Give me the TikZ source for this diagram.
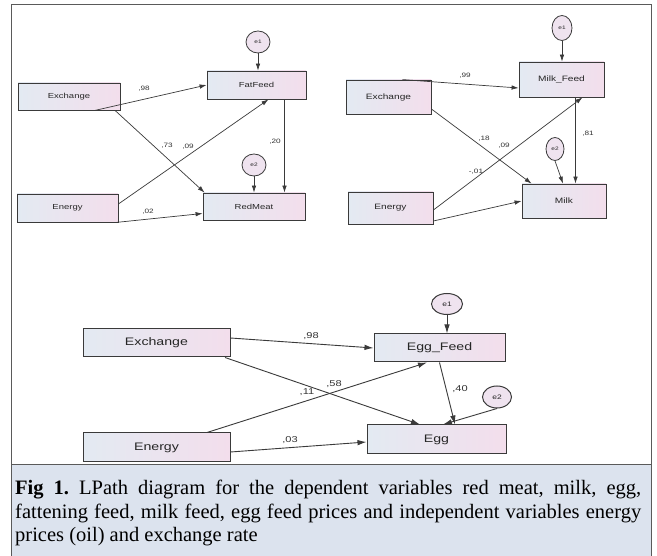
\documentclass[tikz,border=0pt]{standalone}
\usepackage{fontspec}
\setmainfont{Liberation Serif}
\newfontfamily\dgfont[FakeStretch=1.3]{Liberation Sans}
\usetikzlibrary{arrows.meta,shapes.geometric}
\definecolor{boxleft}{HTML}{E3EAF2}
\definecolor{boxright}{HTML}{F3DEEC}
\definecolor{ellfill}{HTML}{EFE3EF}
\definecolor{capfill}{HTML}{DCE3EE}
\definecolor{linec}{HTML}{3A3A3A}
\definecolor{framec}{HTML}{5A5A5A}
\begin{document}
\frenchspacing
\begin{tikzpicture}[x=1pt,y=-1pt,
  varbox/.style={rectangle, draw=linec, line width=0.8pt, left color=boxleft, right color=boxright, inner sep=0pt, text=black!85},
  smallbox/.style={varbox, font=\dgfont\fontsize{7.3}{8}\selectfont},
  midbox/.style={varbox, font=\dgfont\fontsize{7.8}{9}\selectfont},
  bigbox/.style={varbox, line width=1pt, font=\dgfont\fontsize{10.9}{12}\selectfont},
  errnode/.style={ellipse, draw=linec, line width=0.8pt, fill=ellfill, inner sep=0pt, text=black!85},
  smallerr/.style={errnode, font=\dgfont\fontsize{5}{6}\selectfont},
  bigerr/.style={errnode, line width=1pt, font=\dgfont\fontsize{6.5}{7}\selectfont},
  smalllab/.style={font=\dgfont\fontsize{6.3}{7}\selectfont, inner sep=0pt, text=black!80},
  biglab/.style={font=\dgfont\fontsize{8.5}{9}\selectfont, inner sep=0pt, text=black!80},
  arrS/.style={draw=linec, line width=0.7pt, -{Latex[length=7pt,width=4.5pt]}},
  arrB/.style={draw=linec, line width=0.9pt, -{Latex[length=9pt,width=5.5pt]}},
]
\useasboundingbox (0,0) rectangle (657,556);
\fill[white] (0,0) rectangle (657,556);
% frame and caption area
\fill[capfill] (11,465) rectangle (651,556);
\draw[framec, line width=1pt] (11,465) -- (651,465);
\draw[framec, line width=1pt] (11,556) -- (11,5) -- (651,5) -- (651,556);

% ---------- top-left diagram ----------
\node[smallbox, minimum width=102pt, minimum height=27pt] (exA) at (69,96.5) {Exchange};
\node[smallbox, minimum width=101pt, minimum height=28pt] (enA) at (67.5,208) {Energy};
\node[smallbox, minimum width=99pt, minimum height=28pt] (ffA) at (256.5,85) {FatFeed};
\node[smallbox, minimum width=102pt, minimum height=27pt] (rmA) at (254,206.5) {RedMeat};
\node[smallerr, minimum width=24pt, minimum height=22pt] (e1A) at (258,42) {e1};
\node[smallerr, minimum width=24pt, minimum height=22pt] (e2A) at (254,165) {e2};

\draw[arrS] ([xshift=26pt]exA.south) -- (ffA.west);
\draw[arrS] ([xshift=46pt]exA.south) -- ([xshift=2pt]rmA.north west);
\draw[arrS] ([yshift=4pt]enA.east) -- ([xshift=12pt]ffA.south);
\draw[arrS] ([xshift=-2pt]enA.south east) -- ([yshift=-7pt]rmA.west);
\draw[arrS] ([xshift=28pt]ffA.south) -- ([xshift=28pt]ffA.south |- rmA.north);
\draw[arrS] (e1A.south) -- (e1A.south |- ffA.north);
\draw[arrS] (e2A.south) -- (e2A.south |- rmA.north);

\node[smalllab] (lA1) at (144,89) {,98};
\node[smalllab] (lA2) at (167,146) {,73};
\node[smalllab] (lA3) at (188,147) {,09};
\node[smalllab] (lA4) at (148,212) {,02};
\node[smalllab] (lA5) at (275,142) {,20};

% ---------- top-right diagram ----------
\node[midbox, minimum width=85pt, minimum height=34pt] (exB) at (388.5,97) {Exchange};
\node[midbox, minimum width=85pt, minimum height=32pt] (enB) at (390.5,208) {Energy};
\node[midbox, minimum width=85pt, minimum height=35pt] (mfB) at (561.5,79.5) {Milk\_Feed};
\node[midbox, minimum width=84pt, minimum height=34pt] (mkB) at (564,201) {Milk};
\node[smallerr, minimum width=20pt, minimum height=25pt] (e1B) at (562,28) {e1};
\node[smallerr, minimum width=18pt, minimum height=23pt] (e2B) at (555,149) {e2};

\draw[arrS] ([xshift=14pt]exB.north) -- ([yshift=-8.5pt]mfB.west);
\draw[arrS] ([yshift=-12pt]exB.east) -- ([xshift=10pt]mkB.north west);
\draw[arrS] ([yshift=-2pt]enB.east) -- ([xshift=21pt]mfB.south);
\draw[arrS] ([yshift=-13pt]enB.east) -- (mkB.west);
\draw[arrS] ([xshift=14pt]mfB.south) -- ([xshift=14pt]mfB.south |- mkB.north);
\draw[arrS] (e1B.south) -- (e1B.south |- mfB.north);
\draw[arrS] (e2B.south) -- ([xshift=-1pt]mkB.north);

\node[smalllab] (lB1) at (465,76) {,99};
\node[smalllab] (lB2) at (484,139) {,18};
\node[smalllab] (lB3) at (504,146) {,09};
\node[smalllab] (lB4) at (476,172) {-,01};
\node[smalllab] (lB5) at (588,134) {,81};

% ---------- bottom diagram ----------
\node[bigbox, minimum width=147pt, minimum height=28pt] (exC) at (156.5,343) {Exchange};
\node[bigbox, minimum width=147pt, minimum height=29pt] (enC) at (156.5,447.5) {Energy};
\node[bigbox, minimum width=131pt, minimum height=28pt] (efC) at (439.5,348) {Egg\_Feed};
\node[bigbox, minimum width=139pt, minimum height=29pt] (egC) at (436.5,439.5) {Egg};
\node[bigerr, minimum width=31pt, minimum height=21pt] (e1C) at (447,304) {e1};
\node[bigerr, minimum width=29pt, minimum height=22pt] (e2C) at (497,397) {e2};

\draw[arrB] ([yshift=5pt]exC.east) -- (efC.west);
\draw[arrB] ([xshift=68.5pt]exC.south) -- ([xshift=-16.5pt]egC.north);
\draw[arrB] ([xshift=50.5pt]enC.north) -- ([xshift=-12.5pt]efC.south);
\draw[arrB] ([yshift=-4.5pt]enC.east) -- ([yshift=-2.5pt]egC.west);
\draw[arrB] (efC.south) -- ([xshift=18.5pt]egC.north);
\draw[arrB] (e1C.south) -- (e1C.south |- efC.north);
\draw[arrB] (e2C.south) -- ([xshift=6.5pt]egC.north);

\node[biglab] (lC1) at (311,336) {,98};
\node[biglab] (lC2) at (334,384) {,58};
\node[biglab] (lC3) at (307,392) {,11};
\node[biglab] (lC4) at (290,440) {,03};
\node[biglab] (lC5) at (460,389) {,40};

% ---------- caption ----------
\node[anchor=north west, inner sep=0pt, text width=626pt, align=justify,
      font=\fontsize{20.5}{23.5}\selectfont] (cap) at (15,480)
  {\frenchspacing\textbf{Fig 1.} LPath diagram for the dependent variables red meat, milk, egg,\linebreak
   fattening feed, milk feed, egg feed prices and independent variables energy\linebreak
   prices (oil) and exchange rate};
\end{tikzpicture}
\end{document}
